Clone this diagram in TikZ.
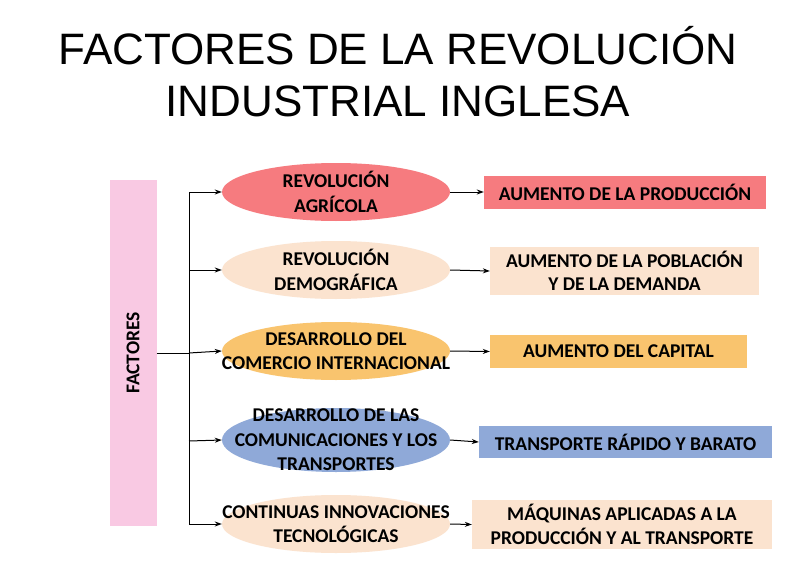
\documentclass[tikz,border=0pt]{standalone}
\usepackage{fontspec}
\setmainfont{Carlito}
\newfontfamily\titlefont{Liberation Sans}
\usepackage{tikz}
\usetikzlibrary{shapes.geometric, arrows.meta, positioning}
\tikzstyle{arrow} = [line width=1pt,->,>={Stealth[length=7pt,width=5pt]}]
\tikzstyle{causa} = [ellipse,minimum width=228,minimum height=58,inner sep=0pt]
\tikzstyle{rotulo} = [align=center,inner sep=0pt,font=\bfseries\fontsize{19.5}{24.5}\selectfont]
\tikzstyle{efecto} = [rectangle,inner sep=0pt,align=center,font=\bfseries\fontsize{19.5}{23.5}\selectfont]
\definecolor{rojo}{HTML}{F67B7F}
\definecolor{melocoton}{HTML}{FBE3CF}
\definecolor{naranja}{HTML}{F9C46E}
\definecolor{azul}{HTML}{8FA9D8}
\definecolor{rosa}{HTML}{F9C9E3}

\begin{document}
\begin{tikzpicture}[x=1pt,y=-1pt]
    \useasboundingbox[fill=white] (0,0) rectangle (797,567);

    % Title
    \node (titulo) at (398,72) [align=center,font=\titlefont\fontsize{44}{52}\selectfont] {FACTORES DE LA REVOLUCIÓN\\INDUSTRIAL INGLESA};

    % Factores block
    \node (factores) at (133,353) [fill=rosa,minimum width=47,minimum height=346,inner sep=0pt] {};
    \node at (factores) [rotate=90,rotulo] {FACTORES};

    % Causes
    \node[causa,fill=rojo] (agricola) at (336,192) {};
    \node[causa,fill=melocoton] (demografica) at (336,270) {};
    \node[causa,fill=naranja] (comercio) at (336,351) {};
    \node[causa,fill=azul,minimum height=64] (comunicaciones) at (336,440) {};
    \node[causa,fill=melocoton] (innovaciones) at (336,524) {};
    \node[rotulo] at (agricola) {REVOLUCIÓN\\AGRÍCOLA};
    \node[rotulo] at (demografica) {REVOLUCIÓN\\DEMOGRÁFICA};
    \node[rotulo] at (comercio) {DESARROLLO DEL\\COMERCIO INTERNACIONAL};
    \node[rotulo] at (comunicaciones) {DESARROLLO DE LAS\\COMUNICACIONES Y LOS\\TRANSPORTES};
    \node[rotulo] at (innovaciones) {CONTINUAS INNOVACIONES\\TECNOLÓGICAS};

    % Effects
    \node[efecto,fill=rojo,minimum width=282,minimum height=33] (produccion) at (625,192) {AUMENTO DE LA PRODUCCIÓN};
    \node[efecto,fill=melocoton,minimum width=269,minimum height=48] (poblacion) at (624.5,271) {AUMENTO DE LA POBLACIÓN\\Y DE LA DEMANDA};
    \node[efecto,fill=naranja,minimum width=257,minimum height=33] (capital) at (618.5,351.5) {AUMENTO DEL CAPITAL};
    \node[efecto,fill=azul,minimum width=293,minimum height=32] (transporte) at (625.5,442) {TRANSPORTE RÁPIDO Y BARATO};
    \node[efecto,fill=melocoton,minimum width=300,minimum height=49] (maquinas) at (622,524.5) {MÁQUINAS APLICADAS A LA\\PRODUCCIÓN Y AL TRANSPORTE};

    % Trunk
    \coordinate (t1) at (189,192);
    \coordinate (t2) at (189,270);
    \coordinate (t3) at (189,353);
    \coordinate (t4) at (189,441);
    \coordinate (t5) at (189,524);
    \draw[line width=1pt] (factores.east |- t3) -- (t3);
    \draw[line width=1pt] (t1) -- (t5);

    % Branches
    \draw[arrow] (t1) -- (agricola.west);
    \draw[arrow] (t2) -- (demografica.west);
    \draw[arrow] (t3) -- (comercio.west);
    \draw[arrow] (t4) -- (comunicaciones.west);
    \draw[arrow] (t5) -- (innovaciones.west);

    % Causes to effects
    \draw[arrow] (agricola.east) -- (produccion.west);
    \draw[arrow] (demografica.east) -- (poblacion.west);
    \draw[arrow] (comercio.east) -- (capital.west);
    \draw[arrow] (comunicaciones.east) -- (transporte.west);
    \draw[arrow] (innovaciones.east) -- (maquinas.west);

\end{tikzpicture}
\end{document}
